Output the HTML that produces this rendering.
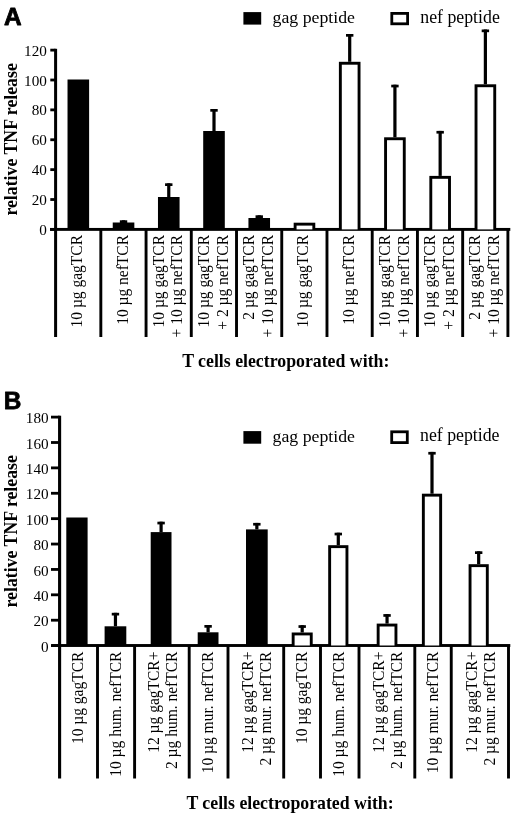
<!DOCTYPE html>
<html><head><meta charset="utf-8"><title>Figure</title>
<style>
html,body{margin:0;padding:0;background:#fff;}
body{width:520px;height:828px;overflow:hidden;font-family:"Liberation Serif",serif;}
svg{display:block;filter:grayscale(1) blur(0.35px)}
text{fill:#000}
</style></head><body>
<svg width="520" height="828" viewBox="0 0 520 828">
<rect x="0" y="0" width="520" height="828" fill="#fff"/>
<text x="3.90" y="24.90" font-family="Liberation Sans" font-size="24.4" text-anchor="start" font-weight="bold" stroke="#000" stroke-width="0.8" stroke-linejoin="round">A</text>
<text x="0" y="0" font-family="Liberation Serif" font-size="17.8" text-anchor="middle" font-weight="bold" transform="translate(17.00 139.40) rotate(-90) scale(1 1.0)">relative TNF release</text>
<rect x="54.10" y="48.80" width="3.00" height="288.20" fill="#000"/>
<rect x="50.30" y="228.00" width="5.30" height="2.80" fill="#000"/>
<text x="46.90" y="235.00" font-family="Liberation Serif" font-size="15.2" text-anchor="end">0</text>
<rect x="50.30" y="198.12" width="5.30" height="2.80" fill="#000"/>
<text x="46.90" y="205.12" font-family="Liberation Serif" font-size="15.2" text-anchor="end">20</text>
<rect x="50.30" y="168.24" width="5.30" height="2.80" fill="#000"/>
<text x="46.90" y="175.24" font-family="Liberation Serif" font-size="15.2" text-anchor="end">40</text>
<rect x="50.30" y="138.36" width="5.30" height="2.80" fill="#000"/>
<text x="46.90" y="145.36" font-family="Liberation Serif" font-size="15.2" text-anchor="end">60</text>
<rect x="50.30" y="108.48" width="5.30" height="2.80" fill="#000"/>
<text x="46.90" y="115.48" font-family="Liberation Serif" font-size="15.2" text-anchor="end">80</text>
<rect x="50.30" y="78.60" width="5.30" height="2.80" fill="#000"/>
<text x="46.90" y="85.60" font-family="Liberation Serif" font-size="15.2" text-anchor="end">100</text>
<rect x="50.30" y="48.72" width="5.30" height="2.80" fill="#000"/>
<text x="46.90" y="55.72" font-family="Liberation Serif" font-size="15.2" text-anchor="end">120</text>
<rect x="50.00" y="227.95" width="460.30" height="2.90" fill="#000"/>
<rect x="99.38" y="229.40" width="2.90" height="107.60" fill="#000"/>
<rect x="144.61" y="229.40" width="2.90" height="107.60" fill="#000"/>
<rect x="189.84" y="229.40" width="2.90" height="107.60" fill="#000"/>
<rect x="235.07" y="229.40" width="2.90" height="107.60" fill="#000"/>
<rect x="280.30" y="229.40" width="2.90" height="107.60" fill="#000"/>
<rect x="325.53" y="229.40" width="2.90" height="107.60" fill="#000"/>
<rect x="370.76" y="229.40" width="2.90" height="107.60" fill="#000"/>
<rect x="415.99" y="229.40" width="2.90" height="107.60" fill="#000"/>
<rect x="461.22" y="229.40" width="2.90" height="107.60" fill="#000"/>
<rect x="506.45" y="229.40" width="2.90" height="107.60" fill="#000"/>
<rect x="67.52" y="79.50" width="21.60" height="149.90" fill="#000"/>
<rect x="112.74" y="222.50" width="21.60" height="6.90" fill="#000"/>
<rect x="121.94" y="220.30" width="3.20" height="2.20" fill="#000"/>
<rect x="119.84" y="220.30" width="7.40" height="2.70" fill="#000"/>
<rect x="157.97" y="197.00" width="21.60" height="32.40" fill="#000"/>
<rect x="167.17" y="183.30" width="3.20" height="13.70" fill="#000"/>
<rect x="165.07" y="183.30" width="7.40" height="2.70" fill="#000"/>
<rect x="203.20" y="131.00" width="21.60" height="98.40" fill="#000"/>
<rect x="212.40" y="109.00" width="3.20" height="22.00" fill="#000"/>
<rect x="210.30" y="109.00" width="7.40" height="2.70" fill="#000"/>
<rect x="248.44" y="218.00" width="21.60" height="11.40" fill="#000"/>
<rect x="257.63" y="215.30" width="3.20" height="2.70" fill="#000"/>
<rect x="255.54" y="215.30" width="7.40" height="2.70" fill="#000"/>
<rect x="293.67" y="222.70" width="21.60" height="6.70" fill="#000"/>
<rect x="296.56" y="225.60" width="15.80" height="3.80" fill="#fff"/>
<rect x="348.10" y="34.00" width="3.20" height="27.80" fill="#000"/>
<rect x="346.00" y="34.00" width="7.40" height="2.70" fill="#000"/>
<rect x="338.90" y="61.80" width="21.60" height="167.60" fill="#000"/>
<rect x="341.80" y="64.70" width="15.80" height="164.70" fill="#fff"/>
<rect x="393.32" y="84.70" width="3.20" height="52.60" fill="#000"/>
<rect x="391.23" y="84.70" width="7.40" height="2.70" fill="#000"/>
<rect x="384.12" y="137.30" width="21.60" height="92.10" fill="#000"/>
<rect x="387.02" y="140.20" width="15.80" height="89.20" fill="#fff"/>
<rect x="438.56" y="130.90" width="3.20" height="45.00" fill="#000"/>
<rect x="436.46" y="130.90" width="7.40" height="2.70" fill="#000"/>
<rect x="429.36" y="175.90" width="21.60" height="53.50" fill="#000"/>
<rect x="432.25" y="178.80" width="15.80" height="50.60" fill="#fff"/>
<rect x="483.78" y="29.50" width="3.20" height="54.80" fill="#000"/>
<rect x="481.69" y="29.50" width="7.40" height="2.70" fill="#000"/>
<rect x="474.58" y="84.30" width="21.60" height="145.10" fill="#000"/>
<rect x="477.48" y="87.20" width="15.80" height="142.20" fill="#fff"/>
<rect x="243.40" y="12.10" width="17.80" height="12.50" fill="#000"/>
<text x="272.60" y="22.90" font-family="Liberation Serif" font-size="17.75" text-anchor="start">gag peptide</text>
<rect x="390.40" y="12.00" width="18.60" height="13.20" fill="#000"/>
<rect x="393.20" y="14.80" width="13.00" height="7.60" fill="#fff"/>
<text x="420.30" y="22.80" font-family="Liberation Serif" font-size="17.8" text-anchor="start">nef peptide</text>
<text x="0" y="0" font-family="Liberation Serif" font-size="15.5" text-anchor="end" transform="translate(82.31 235.00) rotate(-90) scale(1 1.06)">10 µg gagTCR</text>
<text x="0" y="0" font-family="Liberation Serif" font-size="15.5" text-anchor="end" transform="translate(127.54 235.00) rotate(-90) scale(1 1.06)">10 µg nefTCR</text>
<text x="0" y="0" font-family="Liberation Serif" font-size="15.5" text-anchor="end" transform="translate(163.57 235.00) rotate(-90) scale(1 1.06)">10 µg gagTCR</text>
<text x="0" y="0" font-family="Liberation Serif" font-size="15.5" text-anchor="end" transform="translate(182.47 235.00) rotate(-90) scale(1 1.06)">+ 10 µg nefTCR</text>
<text x="0" y="0" font-family="Liberation Serif" font-size="15.5" text-anchor="end" transform="translate(208.80 235.00) rotate(-90) scale(1 1.06)">10 µg gagTCR</text>
<text x="0" y="0" font-family="Liberation Serif" font-size="15.5" text-anchor="end" transform="translate(227.70 235.00) rotate(-90) scale(1 1.06)">+ 2 µg nefTCR</text>
<text x="0" y="0" font-family="Liberation Serif" font-size="15.5" text-anchor="end" transform="translate(254.03 235.00) rotate(-90) scale(1 1.06)">2 µg gagTCR</text>
<text x="0" y="0" font-family="Liberation Serif" font-size="15.5" text-anchor="end" transform="translate(272.94 235.00) rotate(-90) scale(1 1.06)">+ 10 µg nefTCR</text>
<text x="0" y="0" font-family="Liberation Serif" font-size="15.5" text-anchor="end" transform="translate(308.47 235.00) rotate(-90) scale(1 1.06)">10 µg gagTCR</text>
<text x="0" y="0" font-family="Liberation Serif" font-size="15.5" text-anchor="end" transform="translate(353.70 235.00) rotate(-90) scale(1 1.06)">10 µg nefTCR</text>
<text x="0" y="0" font-family="Liberation Serif" font-size="15.5" text-anchor="end" transform="translate(389.72 235.00) rotate(-90) scale(1 1.06)">10 µg gagTCR</text>
<text x="0" y="0" font-family="Liberation Serif" font-size="15.5" text-anchor="end" transform="translate(408.62 235.00) rotate(-90) scale(1 1.06)">+ 10 µg nefTCR</text>
<text x="0" y="0" font-family="Liberation Serif" font-size="15.5" text-anchor="end" transform="translate(434.95 235.00) rotate(-90) scale(1 1.06)">10 µg gagTCR</text>
<text x="0" y="0" font-family="Liberation Serif" font-size="15.5" text-anchor="end" transform="translate(453.86 235.00) rotate(-90) scale(1 1.06)">+ 2 µg nefTCR</text>
<text x="0" y="0" font-family="Liberation Serif" font-size="15.5" text-anchor="end" transform="translate(480.18 235.00) rotate(-90) scale(1 1.06)">2 µg gagTCR</text>
<text x="0" y="0" font-family="Liberation Serif" font-size="15.5" text-anchor="end" transform="translate(499.08 235.00) rotate(-90) scale(1 1.06)">+ 10 µg nefTCR</text>
<text x="285.75" y="367.00" font-family="Liberation Serif" font-size="17.8" text-anchor="middle" font-weight="bold">T cells electroporated with:</text>
<text x="3.80" y="408.70" font-family="Liberation Sans" font-size="24.4" text-anchor="start" font-weight="bold" stroke="#000" stroke-width="0.8" stroke-linejoin="round">B</text>
<text x="0" y="0" font-family="Liberation Serif" font-size="17.8" text-anchor="middle" font-weight="bold" transform="translate(16.80 531.30) rotate(-90) scale(1 1.0)">relative TNF release</text>
<rect x="58.05" y="415.70" width="3.10" height="362.80" fill="#000"/>
<rect x="51.00" y="644.20" width="8.60" height="2.80" fill="#000"/>
<text x="48.60" y="651.70" font-family="Liberation Serif" font-size="15.2" text-anchor="end">0</text>
<rect x="51.00" y="618.81" width="8.60" height="2.80" fill="#000"/>
<text x="48.60" y="626.31" font-family="Liberation Serif" font-size="15.2" text-anchor="end">20</text>
<rect x="51.00" y="593.42" width="8.60" height="2.80" fill="#000"/>
<text x="48.60" y="600.92" font-family="Liberation Serif" font-size="15.2" text-anchor="end">40</text>
<rect x="51.00" y="568.04" width="8.60" height="2.80" fill="#000"/>
<text x="48.60" y="575.54" font-family="Liberation Serif" font-size="15.2" text-anchor="end">60</text>
<rect x="51.00" y="542.65" width="8.60" height="2.80" fill="#000"/>
<text x="48.60" y="550.15" font-family="Liberation Serif" font-size="15.2" text-anchor="end">80</text>
<rect x="51.00" y="517.26" width="8.60" height="2.80" fill="#000"/>
<text x="48.60" y="524.76" font-family="Liberation Serif" font-size="15.2" text-anchor="end">100</text>
<rect x="51.00" y="491.87" width="8.60" height="2.80" fill="#000"/>
<text x="48.60" y="499.37" font-family="Liberation Serif" font-size="15.2" text-anchor="end">120</text>
<rect x="51.00" y="466.48" width="8.60" height="2.80" fill="#000"/>
<text x="48.60" y="473.98" font-family="Liberation Serif" font-size="15.2" text-anchor="end">140</text>
<rect x="51.00" y="441.10" width="8.60" height="2.80" fill="#000"/>
<text x="48.60" y="448.60" font-family="Liberation Serif" font-size="15.2" text-anchor="end">160</text>
<rect x="51.00" y="415.71" width="8.60" height="2.80" fill="#000"/>
<text x="48.60" y="423.21" font-family="Liberation Serif" font-size="15.2" text-anchor="end">180</text>
<rect x="51.30" y="644.05" width="459.00" height="2.90" fill="#000"/>
<rect x="96.05" y="645.50" width="2.90" height="133.00" fill="#000"/>
<rect x="133.15" y="645.50" width="2.90" height="133.00" fill="#000"/>
<rect x="187.75" y="645.50" width="2.90" height="133.00" fill="#000"/>
<rect x="226.55" y="645.50" width="2.90" height="133.00" fill="#000"/>
<rect x="282.25" y="645.50" width="2.90" height="133.00" fill="#000"/>
<rect x="319.05" y="645.50" width="2.90" height="133.00" fill="#000"/>
<rect x="357.55" y="645.50" width="2.90" height="133.00" fill="#000"/>
<rect x="413.35" y="645.50" width="2.90" height="133.00" fill="#000"/>
<rect x="449.80" y="645.50" width="2.90" height="133.00" fill="#000"/>
<rect x="507.05" y="645.50" width="2.90" height="133.00" fill="#000"/>
<rect x="66.30" y="517.50" width="21.30" height="128.00" fill="#000"/>
<rect x="104.60" y="626.30" width="21.70" height="19.20" fill="#000"/>
<rect x="113.85" y="612.80" width="3.20" height="13.50" fill="#000"/>
<rect x="111.75" y="612.80" width="7.40" height="2.70" fill="#000"/>
<rect x="150.70" y="532.10" width="20.80" height="113.40" fill="#000"/>
<rect x="159.50" y="521.70" width="3.20" height="10.40" fill="#000"/>
<rect x="157.40" y="521.70" width="7.40" height="2.70" fill="#000"/>
<rect x="197.70" y="632.30" width="20.80" height="13.20" fill="#000"/>
<rect x="206.50" y="625.00" width="3.20" height="7.30" fill="#000"/>
<rect x="204.40" y="625.00" width="7.40" height="2.70" fill="#000"/>
<rect x="246.00" y="529.40" width="21.70" height="116.10" fill="#000"/>
<rect x="255.25" y="522.90" width="3.20" height="6.50" fill="#000"/>
<rect x="253.15" y="522.90" width="7.40" height="2.70" fill="#000"/>
<rect x="300.60" y="625.20" width="3.20" height="7.30" fill="#000"/>
<rect x="298.50" y="625.20" width="7.40" height="2.70" fill="#000"/>
<rect x="291.70" y="632.50" width="21.00" height="13.00" fill="#000"/>
<rect x="294.60" y="635.40" width="15.20" height="10.10" fill="#fff"/>
<rect x="336.70" y="532.70" width="3.20" height="12.50" fill="#000"/>
<rect x="334.60" y="532.70" width="7.40" height="2.70" fill="#000"/>
<rect x="328.20" y="545.20" width="20.20" height="100.30" fill="#000"/>
<rect x="331.10" y="548.10" width="14.40" height="97.40" fill="#fff"/>
<rect x="385.45" y="614.10" width="3.20" height="9.50" fill="#000"/>
<rect x="383.35" y="614.10" width="7.40" height="2.70" fill="#000"/>
<rect x="376.70" y="623.60" width="20.70" height="21.90" fill="#000"/>
<rect x="379.60" y="626.50" width="14.90" height="19.00" fill="#fff"/>
<rect x="430.40" y="451.90" width="3.20" height="41.80" fill="#000"/>
<rect x="428.30" y="451.90" width="7.40" height="2.70" fill="#000"/>
<rect x="421.90" y="493.70" width="20.20" height="151.80" fill="#000"/>
<rect x="424.80" y="496.60" width="14.40" height="148.90" fill="#fff"/>
<rect x="477.07" y="551.30" width="3.20" height="12.90" fill="#000"/>
<rect x="474.98" y="551.30" width="7.40" height="2.70" fill="#000"/>
<rect x="468.60" y="564.20" width="20.15" height="81.30" fill="#000"/>
<rect x="471.50" y="567.10" width="14.35" height="78.40" fill="#fff"/>
<rect x="243.40" y="431.10" width="17.80" height="12.60" fill="#000"/>
<text x="272.60" y="442.00" font-family="Liberation Serif" font-size="17.75" text-anchor="start">gag peptide</text>
<rect x="390.30" y="430.40" width="18.40" height="13.60" fill="#000"/>
<rect x="393.10" y="433.20" width="12.80" height="8.00" fill="#fff"/>
<text x="420.00" y="441.40" font-family="Liberation Serif" font-size="17.8" text-anchor="start">nef peptide</text>
<text x="0" y="0" font-family="Liberation Serif" font-size="15.5" text-anchor="end" transform="translate(83.15 651.60) rotate(-90) scale(1 1.06)">10 µg gagTCR</text>
<text x="0" y="0" font-family="Liberation Serif" font-size="15.5" text-anchor="end" transform="translate(120.65 651.60) rotate(-90) scale(1 1.06)">10 µg hum. nefTCR</text>
<text x="0" y="0" font-family="Liberation Serif" font-size="15.5" text-anchor="end" transform="translate(158.60 651.60) rotate(-90) scale(1 1.06)">12 µg gagTCR+</text>
<text x="0" y="0" font-family="Liberation Serif" font-size="15.5" text-anchor="end" transform="translate(177.00 651.60) rotate(-90) scale(1 1.06)">2 µg hum. nefTCR</text>
<text x="0" y="0" font-family="Liberation Serif" font-size="15.5" text-anchor="end" transform="translate(213.20 651.60) rotate(-90) scale(1 1.06)">10 µg mur. nefTCR</text>
<text x="0" y="0" font-family="Liberation Serif" font-size="15.5" text-anchor="end" transform="translate(252.55 651.60) rotate(-90) scale(1 1.06)">12 µg gagTCR+</text>
<text x="0" y="0" font-family="Liberation Serif" font-size="15.5" text-anchor="end" transform="translate(270.95 651.60) rotate(-90) scale(1 1.06)">2 µg mur. nefTCR</text>
<text x="0" y="0" font-family="Liberation Serif" font-size="15.5" text-anchor="end" transform="translate(306.70 651.60) rotate(-90) scale(1 1.06)">10 µg gagTCR</text>
<text x="0" y="0" font-family="Liberation Serif" font-size="15.5" text-anchor="end" transform="translate(344.35 651.60) rotate(-90) scale(1 1.06)">10 µg hum. nefTCR</text>
<text x="0" y="0" font-family="Liberation Serif" font-size="15.5" text-anchor="end" transform="translate(383.60 651.60) rotate(-90) scale(1 1.06)">12 µg gagTCR+</text>
<text x="0" y="0" font-family="Liberation Serif" font-size="15.5" text-anchor="end" transform="translate(402.00 651.60) rotate(-90) scale(1 1.06)">2 µg hum. nefTCR</text>
<text x="0" y="0" font-family="Liberation Serif" font-size="15.5" text-anchor="end" transform="translate(437.62 651.60) rotate(-90) scale(1 1.06)">10 µg mur. nefTCR</text>
<text x="0" y="0" font-family="Liberation Serif" font-size="15.5" text-anchor="end" transform="translate(476.57 651.60) rotate(-90) scale(1 1.06)">12 µg gagTCR+</text>
<text x="0" y="0" font-family="Liberation Serif" font-size="15.5" text-anchor="end" transform="translate(494.98 651.60) rotate(-90) scale(1 1.06)">2 µg mur. nefTCR</text>
<text x="290.00" y="809.00" font-family="Liberation Serif" font-size="17.8" text-anchor="middle" font-weight="bold">T cells electroporated with:</text>
</svg>
</body></html>
